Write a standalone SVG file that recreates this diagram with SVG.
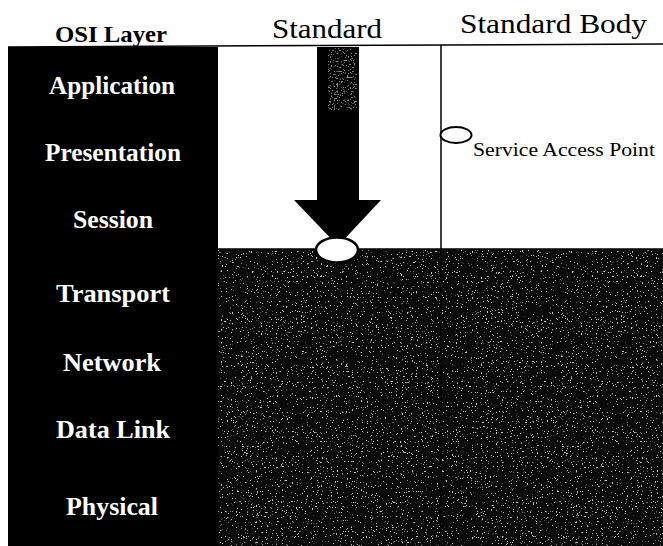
<svg xmlns="http://www.w3.org/2000/svg" width="663" height="546" viewBox="0 0 663 546">
<style>
.hdr{font-family:"Liberation Serif","Times New Roman",serif;fill:#000}
.lay{font-family:"Liberation Serif","Times New Roman",serif;font-weight:bold;font-size:25px;fill:#fff;text-anchor:middle}
.ln{stroke:#000;stroke-width:1.5;fill:none}
</style>
<defs>
<filter id="grain" x="0" y="0" width="100%" height="100%">
<feTurbulence type="fractalNoise" baseFrequency="0.8" numOctaves="3" seed="7" result="n"/>
<feColorMatrix in="n" type="matrix" values="0 0 0 0 0.6  0 0 0 0 0.6  0 0 0 0 0.6  14 0 0 0 -9.2"/>
<feComposite in2="SourceGraphic" operator="in"/>
</filter>
<filter id="grain2" x="0" y="0" width="100%" height="100%">
<feTurbulence type="fractalNoise" baseFrequency="0.7" numOctaves="2" seed="2" result="n"/>
<feColorMatrix in="n" type="matrix" values="0 0 0 0 0.85  0 0 0 0 0.85  0 0 0 0 0.85  10 0 0 0 -5.8"/>
<feComposite in2="SourceGraphic" operator="in"/>
</filter>
</defs>
<rect width="663" height="546" fill="#fff"/>
<g id="headers">
<text class="hdr" x="55" y="42" font-size="23" font-weight="bold" textLength="112" lengthAdjust="spacingAndGlyphs">OSI Layer</text>
<text class="hdr" x="272" y="38" font-size="27" textLength="110" lengthAdjust="spacingAndGlyphs">Standard</text>
<text class="hdr" x="460" y="33" font-size="27" textLength="187" lengthAdjust="spacingAndGlyphs">Standard Body</text>
</g>
<g id="osi-column">
<rect x="8" y="47" width="210" height="499" fill="#000"/>
<text class="lay" x="112" y="94" textLength="126" lengthAdjust="spacingAndGlyphs">Application</text>
<text class="lay" x="113" y="161" textLength="136" lengthAdjust="spacingAndGlyphs">Presentation</text>
<text class="lay" x="113" y="228" textLength="80" lengthAdjust="spacingAndGlyphs">Session</text>
<text class="lay" x="113" y="302" textLength="114" lengthAdjust="spacingAndGlyphs">Transport</text>
<text class="lay" x="112" y="371" textLength="98" lengthAdjust="spacingAndGlyphs">Network</text>
<text class="lay" x="113" y="438" textLength="114" lengthAdjust="spacingAndGlyphs">Data Link</text>
<text class="lay" x="112" y="515" textLength="92" lengthAdjust="spacingAndGlyphs">Physical</text>
</g>
<g id="lower-layers">
<rect x="218" y="249" width="445" height="297" fill="#0a0a0a"/>
<rect x="218" y="249" width="445" height="297" fill="#fff" filter="url(#grain)"/>
</g>
<g id="connectors">
<line class="ln" x1="8" y1="47" x2="663" y2="44"/>
<line class="ln" x1="218" y1="249" x2="663" y2="249"/>
<line class="ln" x1="441" y1="45" x2="441" y2="546" stroke-width="1.2"/>
</g>
<g id="arrow">
<path d="M317 47 H359 V200 H381 L338 246 L294 200 H317 Z" fill="#000"/>
<rect x="328" y="48" width="29" height="62" fill="#fff" filter="url(#grain2)" opacity="0.6"/>
</g>
<g id="sap-session">
<ellipse cx="337" cy="250" rx="21" ry="12.5" fill="#fff" stroke="#000" stroke-width="2.5"/>
</g>
<g id="legend">
<ellipse cx="456" cy="135" rx="15.5" ry="8" fill="#fff" stroke="#000" stroke-width="2"/>
<text class="hdr" x="473" y="156" font-size="19" textLength="182" lengthAdjust="spacingAndGlyphs">Service Access Point</text>
</g>
</svg>
